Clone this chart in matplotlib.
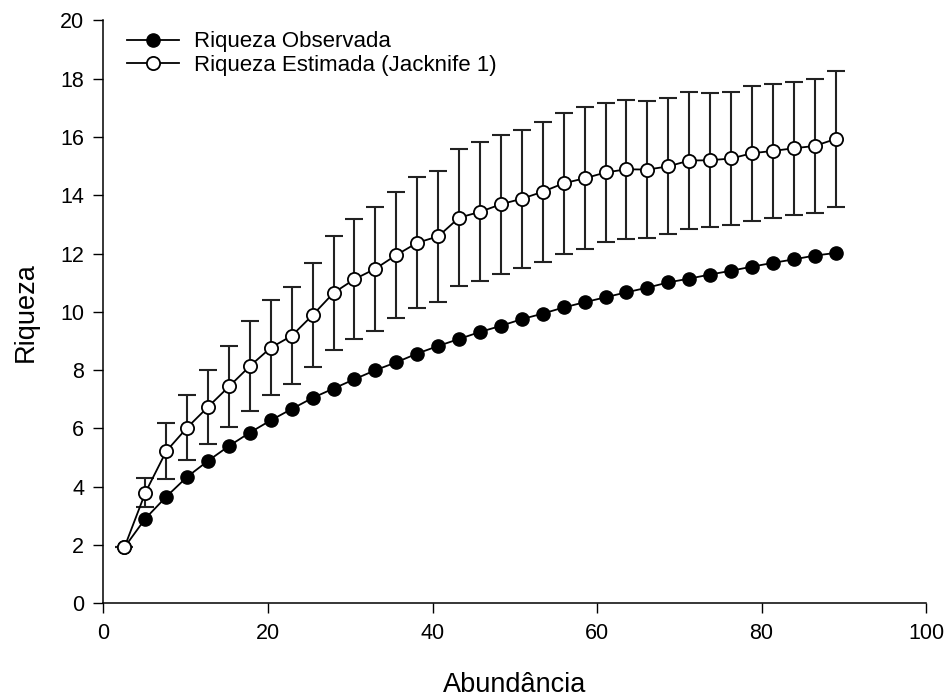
import matplotlib
matplotlib.use("Agg")
import matplotlib.pyplot as plt

plt.rcParams["font.family"] = ["Liberation Sans", "DejaVu Sans"]

# -------------------------------------------------
# Data
# -------------------------------------------------
abundancia = [2.54, 5.09, 7.63, 10.17, 12.71, 15.26, 17.80, 20.34, 22.89, 25.43,
              27.97, 30.51, 33.06, 35.60, 38.14, 40.69, 43.23, 45.77, 48.31, 50.86,
              53.40, 55.94, 58.49, 61.03, 63.57, 66.11, 68.66, 71.20, 73.74, 76.29,
              78.83, 81.37, 83.91, 86.46, 89.00]

riqueza_obs = [1.92, 2.91, 3.66, 4.34, 4.89, 5.40, 5.86, 6.28, 6.67, 7.05,
               7.37, 7.69, 8.00, 8.27, 8.57, 8.83, 9.07, 9.31, 9.52, 9.75,
               9.94, 10.15, 10.33, 10.50, 10.67, 10.83, 11.01, 11.14, 11.28, 11.41,
               11.55, 11.68, 11.80, 11.93, 12.02]

riqueza_est = [1.92, 3.80, 5.22, 6.03, 6.74, 7.44, 8.14, 8.77, 9.18, 9.89,
               10.65, 11.12, 11.48, 11.95, 12.37, 12.59, 13.23, 13.43, 13.69, 13.88,
               14.12, 14.41, 14.58, 14.78, 14.89, 14.88, 14.99, 15.19, 15.20, 15.26,
               15.44, 15.52, 15.61, 15.69, 15.93]

erro_est = [0.0, 0.51, 0.96, 1.11, 1.27, 1.40, 1.53, 1.63, 1.66, 1.79,
            1.96, 2.06, 2.12, 2.16, 2.24, 2.25, 2.34, 2.38, 2.38, 2.37,
            2.40, 2.41, 2.43, 2.40, 2.38, 2.34, 2.33, 2.35, 2.30, 2.29,
            2.31, 2.30, 2.29, 2.29, 2.32]

xticks = [0, 20, 40, 60, 80, 100]
yticks = [0, 2, 4, 6, 8, 10, 12, 14, 16, 18, 20]

# -------------------------------------------------
# Plot
# -------------------------------------------------
fig = plt.figure(figsize=(9.46, 7.0), dpi=100)
ax = fig.add_axes([0.1094, 0.138, 0.8696, 0.833])

ax.plot(abundancia, riqueza_obs, "-o", color="black", lw=1.3,
        ms=9.5, mfc="black", mec="black", label="Riqueza Observada", zorder=3)

ax.errorbar(abundancia, riqueza_est, yerr=erro_est, fmt="none", ecolor="#222222",
            elinewidth=1.5, capsize=6.5, capthick=1.5, zorder=2)
ax.plot(abundancia, riqueza_est, "-o", color="black", lw=1.3,
        ms=9.5, mfc="white", mec="black", mew=1.3,
        label="Riqueza Estimada (Jacknife 1)", zorder=4)

ax.set_xlim(0, 100)
ax.set_ylim(0, 20)
ax.set_xticks(xticks)
ax.set_yticks(yticks)
ax.tick_params(direction="out", length=7, width=1, labelsize=15.5, pad=7)
for side in ["top", "right"]:
    ax.spines[side].set_visible(False)
for side in ["left", "bottom"]:
    ax.spines[side].set_linewidth(1.1)

ax.set_xlabel("Abundância", fontsize=19.5, labelpad=20)
ax.set_ylabel("Riqueza", fontsize=19.5, labelpad=15)

ax.legend(loc="upper left", bbox_to_anchor=(0.0286, 0.981), frameon=False,
          fontsize=16, handlelength=2.35, handletextpad=0.65,
          borderpad=0, borderaxespad=0, labelspacing=0.1)

fig.savefig("out.png", dpi=100)
